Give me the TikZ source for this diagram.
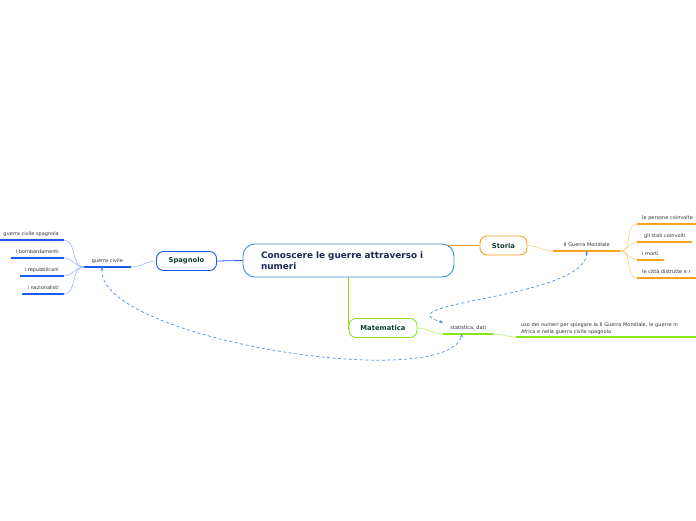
\documentclass[tikz,border=0pt]{standalone}
\usepackage{fontspec}
\setmainfont{DejaVu Sans}
\usetikzlibrary{arrows.meta}

\definecolor{rootblue}{HTML}{3D8ED6}
\definecolor{spblue}{HTML}{1F5AEE}
\definecolor{storange}{HTML}{F7A21B}
\definecolor{matgreen}{HTML}{86E61C}
\definecolor{linkblue}{HTML}{4A90E2}
\definecolor{titletext}{HTML}{1B2A55}
\definecolor{maintext}{HTML}{0F3F2F}
\definecolor{leaftext}{HTML}{333333}

\tikzset{
  root/.style={draw=rootblue, line width=0.9pt, rounded corners=12pt, fill=white,
    text=titletext, font=\fontsize{8.9}{11}\selectfont\bfseries,
    text width=175pt, align=left, inner xsep=18pt, minimum height=33pt},
  topic/.style={draw=#1, line width=0.9pt, rounded corners=7pt, fill=white,
    text=maintext, font=\fontsize{6.8}{8}\selectfont\bfseries,
    minimum height=19pt, inner xsep=0pt},
  leaf/.style={inner xsep=5pt, inner ysep=3pt, text=leaftext,
    font=\fontsize{5}{7}\selectfont, text height=3.8pt, text depth=1.2pt},
  uline/.style={line width=1.6pt},
  branch/.style={line width=0.6pt},
  link/.style={linkblue, dashed, line width=0.7pt, dash pattern=on 3pt off 2.5pt,
    {Stealth[length=3.5pt,width=3pt]}-{Stealth[length=3.5pt,width=3pt]}}
}

\begin{document}
\begin{tikzpicture}[x=1pt, y=-1pt]
  \useasboundingbox (0,0) rectangle (696,520);

  % Main topics
  \node[root] (root) at (348.5,260.5) {Conoscere le guerre attraverso i\\numeri};
  \node[topic=storange, minimum width=47pt] (storia) at (503.5,245.5) {Storia};
  \node[topic=spblue, minimum width=60pt] (spagnolo) at (186.5,261) {Spagnolo};
  \node[topic=matgreen, minimum width=68pt] (mate) at (383,328) {Matematica};

  % Storia
  \node[leaf, anchor=south west, minimum width=67pt] (guerra2) at (553,251) {II Guerra Mondiale};
  \node[leaf, anchor=south west] (persone) at (637,224) {le persone coinvolte};
  \node[leaf, anchor=south west, minimum width=55pt] (stati) at (637,242) {gli stati coinvolti};
  \node[leaf, anchor=south west] (morti) at (637,260) {i morti};
  \node[leaf, anchor=south west] (citta) at (637,278) {le città distrutte e r};

  % Spagnolo
  \node[leaf, anchor=south east, minimum width=47pt] (civile) at (131,267) {guerra civile};
  \node[leaf, anchor=south east] (spagnola) at (64,240) {guerra civile spagnola};
  \node[leaf, anchor=south east] (bombe) at (64,258) {i bombardamenti};
  \node[leaf, anchor=south east] (repub) at (64,276) {i repubblicani};
  \node[leaf, anchor=south east] (naz) at (64,294) {i nazionalisti};

  % Matematica
  \node[leaf, anchor=south west, minimum width=50pt] (stat) at (443,334) {statistica, dati};
  \node[leaf, anchor=south west, text width=200pt, align=left, text height=, text depth=,
    inner ysep=2.5pt] (uso) at (516,337)
    {uso dei numeri per spiegare la II Guerra Mondiale, le guerre in\\Africa e nella guerra civile spagnola};

  % Underlines
  \foreach \n/\c in {guerra2/storange, persone/storange, stati/storange, morti/storange,
      citta/storange, civile/spblue, spagnola/spblue, bombe/spblue, repub/spblue,
      naz/spblue, stat/matgreen, uso/matgreen}
    \draw[uline, \c] (\n.south west) -- (\n.south east);

  % Connectors from the root
  \draw[storange, line width=0.8pt] ([xshift=-7pt,yshift=-2pt]root.north east) to[out=0,in=180] (storia.west);
  \draw[spblue, line width=0.8pt] (root.west) -- (spagnolo.east);
  \draw[matgreen, line width=0.9pt] (root.south) |- (mate.west);

  % Branches
  \draw[branch, storange!55] (storia.east) to[out=0,in=180] (guerra2.south west);
  \foreach \n in {persone, stati, morti, citta}
    \draw[branch, storange!55] (guerra2.south east) to[out=0,in=180] (\n.south west);
  \draw[branch, spblue!45] (spagnolo.west) to[out=180,in=0] (civile.south east);
  \foreach \n in {spagnola, bombe, repub, naz}
    \draw[branch, spblue!45] (civile.south west) to[out=180,in=0] (\n.south east);
  \draw[branch, matgreen!60] (mate.east) to[out=0,in=180] (stat.south west);
  \draw[branch, matgreen!60] (stat.south east) to[out=0,in=180] (uso.south west);

  % Cross links
  \draw[link] (guerra2.south) .. controls +(0,47) and +(-63,-20) .. (stat.north west);
  \draw[link] ([xshift=-5pt]civile.south) .. controls +(-7,71) and +(-17,60) .. ([xshift=-6pt]stat.south);
\end{tikzpicture}
\end{document}
